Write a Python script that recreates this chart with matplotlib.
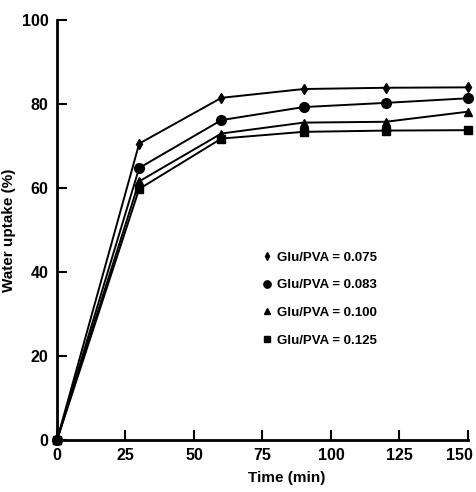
import numpy as np
import matplotlib.pyplot as plt
import matplotlib.transforms as mtrans

plt.rcParams['font.family'] = ['Liberation Sans', 'DejaVu Sans']

time = [0, 30, 60, 90, 120, 150]
uptake_075 = [0, 70.6, 81.5, 83.6, 83.9, 84.0]
uptake_083 = [0, 64.8, 76.2, 79.3, 80.3, 81.4]
uptake_100 = [0, 61.6, 73.0, 75.6, 75.8, 78.2]
uptake_125 = [0, 59.8, 71.8, 73.4, 73.7, 73.8]
labels = ['Glu/PVA = 0.075', 'Glu/PVA = 0.083', 'Glu/PVA = 0.100', 'Glu/PVA = 0.125']

fig = plt.figure(figsize=(4.77, 4.92), dpi=100)
ax = fig.add_axes([0.1195, 0.1057, 0.8615, 0.8533])

ax.plot(time, uptake_075, 'k-', marker='d', ms=5, lw=1.4, label=labels[0])
ax.plot(time, uptake_083, 'k-', marker='o', ms=7, lw=1.4, label=labels[1])
ax.plot(time, uptake_100, 'k-', marker='^', ms=6, lw=1.4, label=labels[2])
ax.plot(time, uptake_125, 'k-', marker='s', ms=5.5, lw=1.4, label=labels[3])

ax.set_xlim(0, 150)
ax.set_ylim(0, 100)
ax.set_xticks([0, 25, 50, 75, 100, 125, 150])
ax.set_yticks([0, 20, 40, 60, 80, 100])
ax.spines['top'].set_visible(False)
ax.spines['right'].set_visible(False)
ax.spines['left'].set_linewidth(2)
ax.spines['bottom'].set_linewidth(2)
ax.tick_params(direction='in', length=7, width=1.5, labelsize=11.5, pad=6)
for t in ax.get_xticklabels() + ax.get_yticklabels():
    t.set_fontweight('bold')
# last x label sits a bit left of its tick so it stays inside the figure
last = ax.get_xticklabels()[-1]
last.set_transform(last.get_transform() + mtrans.ScaledTranslation(-8 / 100, 0, fig.dpi_scale_trans))

ax.set_xlabel('Time (min)', fontsize=11, fontweight='bold', labelpad=5)
ax.xaxis.set_label_coords(0.56, -0.075)
ax.set_ylabel('Water uptake (%)', fontsize=11, fontweight='bold', labelpad=4)
for l in ax.lines:
    l.set_clip_on(False)

leg = ax.legend(loc='center left', bbox_to_anchor=(0.475, 0.336), frameon=False,
                handlelength=0.5, handletextpad=0.5, labelspacing=1.17,
                prop={'size': 9.5, 'weight': 'bold'}, markerscale=0.75)
for h in leg.legend_handles:
    h.set_linestyle('')

fig.savefig('out.png', dpi=100)
